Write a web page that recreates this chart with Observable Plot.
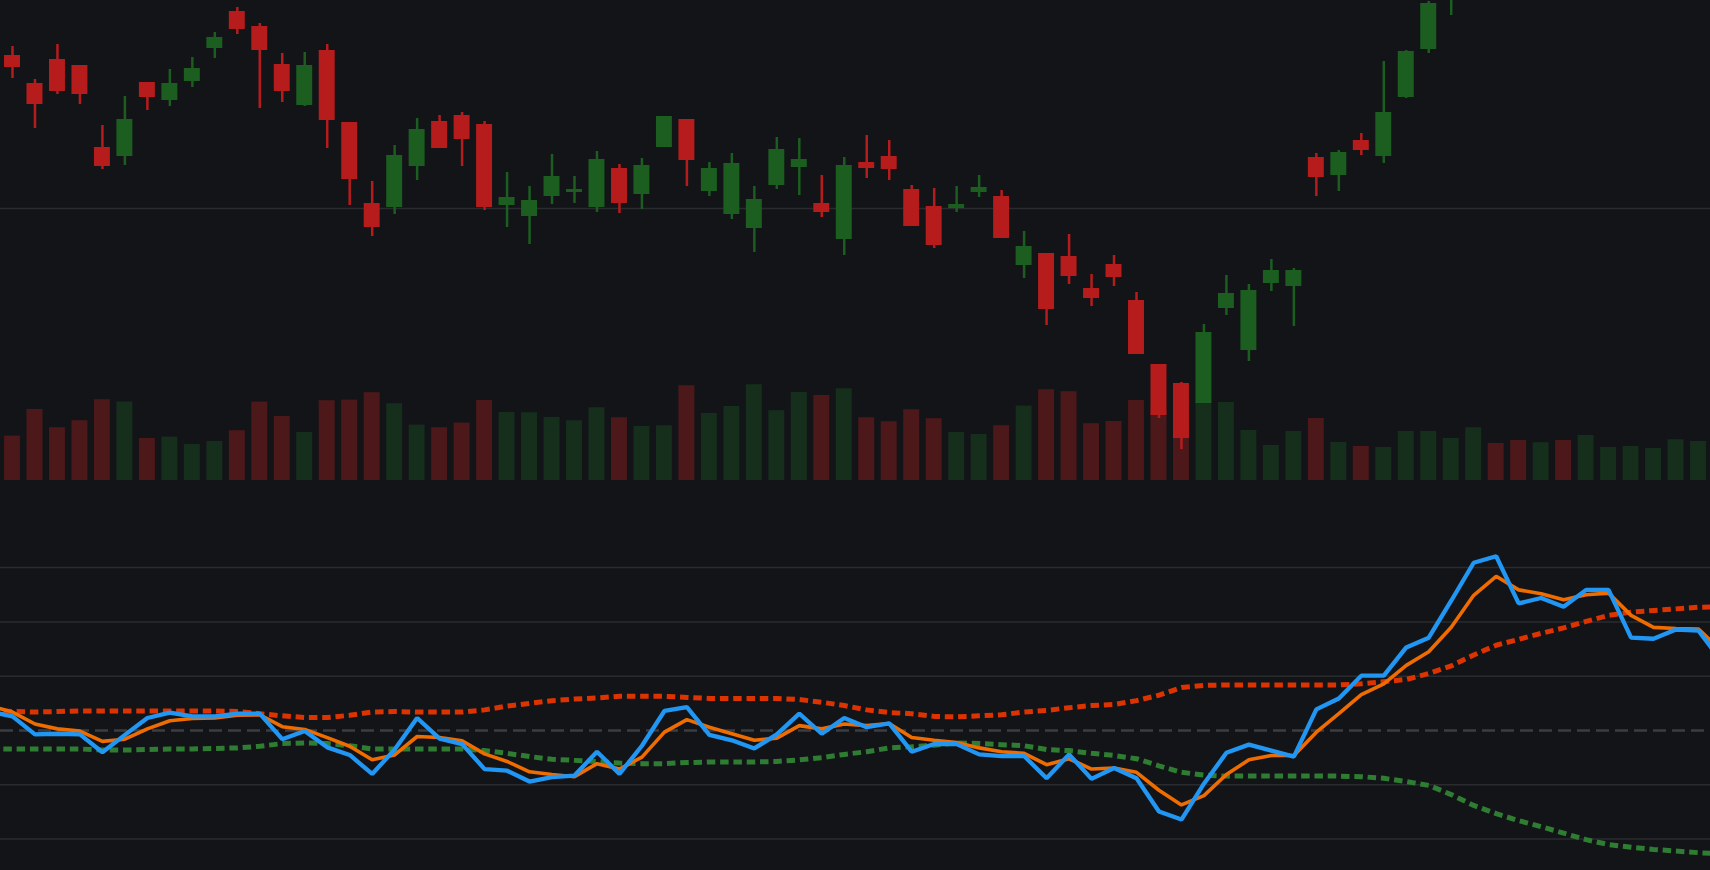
<!DOCTYPE html>
<html>
<head>
<meta charset="utf-8">
<script src="https://cdn.jsdelivr.net/npm/d3@7"></script>
<script src="https://cdn.jsdelivr.net/npm/@observablehq/plot@0.6"></script>
<style>
html, body { margin: 0; padding: 0; background: #131418; overflow: hidden; }
#chart { position: relative; width: 1710px; height: 870px; background: #131418; }
</style>
</head>
<body>
<div id="chart"></div>
<script>
// ---- categories (trading-day index; -1 and 76 are partly visible line ends) ----
const days = d3.range(-1, 77);

// ---- candles (days 0..75) ----
const openP = [135.3,132.5,134.9,134.3,126.1,125.2,132.6,130.8,132.7,136.0,
  139.7,138.2,134.4,130.3,135.8,128.6,120.5,120.1,124.2,128.7,
  129.3,128.4,120.3,119.2,121.2,121.6,120.1,124.0,121.4,126.1,
  128.9,121.7,119.4,118.0,122.3,124.1,120.5,116.9,124.6,125.2,
  121.9,120.2,120.0,121.6,121.2,114.3,115.5,115.2,112.0,114.4,
  110.8,104.4,102.5,100.5,110.0,105.8,112.5,112.2,125.1,123.3,
  126.8,125.2,131.1,135.9,141.6,146.0,152.0,150.4,146.5,147.4,
  146.6,148.6,144.2,144.8,145.1,145.8];
const highP = [136.2,132.9,136.4,134.3,128.3,131.2,132.6,133.9,135.1,137.6,
  140.1,138.5,135.5,135.6,136.4,128.6,122.7,126.3,129.0,129.3,
  129.6,128.7,123.6,122.2,125.4,123.2,125.7,124.4,125.0,129.2,
  128.9,124.6,125.5,122.2,127.1,127.0,123.3,125.1,127.3,126.8,
  122.3,122.0,122.2,123.3,121.8,117.7,115.5,117.4,113.4,115.3,
  111.6,104.4,102.6,108.4,113.3,112.4,114.9,114.0,125.5,125.8,
  127.5,134.7,135.8,140.7,146.8,152.5,153.4,150.9,148.2,148.0,
  149.2,149.5,145.6,145.7,146.5,146.6];
const lowP = [133.0,128.0,131.4,130.4,123.9,124.3,129.8,130.2,132.1,135.0,
  137.4,130.0,130.6,130.2,126.0,120.3,117.2,119.4,122.8,126.0,
  124.2,119.8,118.1,116.4,120.4,120.5,119.6,119.5,119.9,126.1,
  122.2,121.2,118.9,115.6,121.9,121.3,119.1,115.3,123.0,122.8,
  118.2,116.0,119.6,121.1,117.0,113.0,108.3,112.4,110.2,112.2,
  105.4,99.0,95.9,100.5,109.3,104.7,111.7,108.2,121.2,121.7,
  125.3,124.5,131.0,135.5,139.3,145.2,149.8,145.5,145.8,145.9,
  146.1,147.8,143.5,144.1,144.7,145.3];
const closeP = [134.1,130.4,131.7,131.4,124.2,128.9,131.1,132.5,134.0,137.1,
  137.9,135.8,131.7,134.3,128.8,122.9,118.1,125.3,127.9,126.0,
  126.9,120.1,121.1,120.8,123.2,121.9,124.9,120.5,124.3,129.2,
  124.8,124.0,124.5,120.9,125.9,124.9,119.6,124.3,124.0,123.9,
  118.2,116.3,120.4,122.1,117.0,116.2,109.9,113.2,111.0,113.1,
  105.4,99.3,97.0,107.6,111.5,111.8,113.8,113.8,123.1,125.6,
  125.8,129.6,135.7,140.5,145.9,151.8,150.6,146.3,147.6,146.4,
  148.7,148.9,145.0,145.2,146.0,146.1];
// volume, millions (days 0..75)
const volume = [22.2,35.5,26.4,29.9,40.4,39.2,21.0,21.7,18.0,19.5,
  24.9,39.2,32.0,24.0,39.9,40.2,43.9,38.4,27.7,26.4,
  28.7,40.0,34.0,33.9,31.5,29.9,36.4,31.4,27.0,27.4,
  47.4,33.5,37.0,47.9,34.9,44.0,42.5,45.9,31.4,29.4,
  35.4,30.9,24.0,23.0,27.4,37.2,45.4,44.4,28.4,29.5,
  40.0,35.0,25.0,39.5,39.0,25.0,17.5,24.5,31.0,19.0,
  17.0,16.5,24.5,24.5,21.0,26.4,18.5,20.0,18.9,20.0,
  22.5,16.5,17.0,16.0,20.4,19.5];

// ---- oscillator pane (days -1..76) ----
const oscillator = [53.5,52.6,49.3,49.4,49.3,46.0,49.2,52.3,53.3,52.6,
  52.6,53.1,53.1,48.4,49.9,46.9,45.5,42.0,46.5,52.3,
  48.5,47.5,42.9,42.6,40.6,41.4,41.7,46.1,42.0,47.2,
  53.6,54.3,49.2,48.2,46.7,49.3,53.1,49.4,52.3,50.6,
  51.3,46.1,47.5,47.5,45.6,45.3,45.3,41.2,45.6,41.1,
  43.1,41.2,35.1,33.6,40.2,45.9,47.4,46.3,45.2,53.9,
  55.9,60.1,60.1,65.3,67.1,73.9,80.9,82.1,73.4,74.4,
  72.8,75.9,75.9,67.1,66.9,68.6,68.4,62.9];
const signal = [54.5,53.4,51.2,50.3,49.9,48.0,48.4,50.3,51.8,52.2,
  52.3,52.8,52.9,50.7,50.2,48.7,47.1,44.6,45.5,48.9,
  48.7,48.1,45.7,44.3,42.4,41.9,41.5,43.9,42.9,45.1,
  49.7,52.0,50.6,49.4,48.2,48.6,50.9,50.3,51.2,50.9,
  51.3,48.7,48.2,47.8,46.8,46.1,45.8,43.7,44.8,42.9,
  43.1,42.3,39.0,36.3,38.0,41.9,44.6,45.4,45.4,49.7,
  53.1,56.6,58.6,62.0,64.5,69.0,74.9,78.4,75.9,75.2,
  74.1,75.0,75.3,71.2,69.0,68.8,68.7,64.7];
const upperBand = [53.7,53.5,53.4,53.5,53.6,53.6,53.6,53.6,53.6,53.6,
  53.6,53.5,53.1,52.7,52.4,52.4,52.8,53.4,53.5,53.4,
  53.4,53.4,53.8,54.5,55.0,55.5,55.8,56.0,56.3,56.3,
  56.3,56.1,55.9,55.9,55.9,55.9,55.7,55.2,54.6,53.8,
  53.3,53.1,52.6,52.5,52.7,52.9,53.4,53.7,54.2,54.6,
  54.8,55.5,56.5,57.9,58.3,58.4,58.4,58.4,58.4,58.4,
  58.4,58.6,59.0,59.4,60.5,61.9,63.9,65.7,66.8,67.9,
  68.9,70.1,71.2,71.8,72.1,72.4,72.7,72.8];
const lowerBand = [46.6,46.6,46.6,46.6,46.6,46.4,46.4,46.5,46.6,46.6,
  46.7,46.8,47.1,47.6,47.7,47.6,47.2,46.6,46.6,46.6,
  46.6,46.6,46.3,45.8,45.2,44.7,44.5,44.3,44.0,43.9,
  43.9,44.1,44.2,44.2,44.2,44.3,44.6,45.0,45.6,46.1,
  46.8,47.0,47.3,47.7,47.6,47.4,47.2,46.5,46.3,45.8,
  45.4,44.8,43.5,42.3,41.8,41.6,41.6,41.6,41.6,41.6,
  41.6,41.5,41.2,40.6,39.9,38.2,36.2,34.7,33.4,32.3,
  31.1,29.9,29.0,28.5,28.1,27.8,27.5,27.3];

// ---- reference lines ----
const priceGrid = [120];
const oscGrid = [30, 40, 60, 70, 80];
const oscMid = [50];

// ---- tables built from the arrays ----
const candles = openP.map((o, k) => ({
  day: k, open: o, high: highP[k], low: lowP[k], close: closeP[k], volume: volume[k]
}));
const up = candles.filter(d => d.close >= d.open);
const down = candles.filter(d => d.close < d.open);
const osc = days.map((d, k) => ({
  day: d, osc: oscillator[k], sig: signal[k], upper: upperBand[k], lower: lowerBand[k]
}));

const C = {
  bg: "#131418", up: "#1b5e20", down: "#b71c1c",
  volUp: "#162e1c", volDown: "#4c181a", grid: "#2a2b2f", mid: "#3c3d40",
  osc: "#2196f3", sig: "#ef6c00", upper: "#dd3300", lower: "#2e7d32"
};

const xScale = {
  type: "band", domain: days, range: [-21.72, 1731.72],
  paddingInner: 0.29, paddingOuter: 0.145, round: false, axis: null
};
const svgStyle = top => ({
  background: "transparent", position: "absolute", left: "0px", top: top + "px",
  overflow: "hidden", maxWidth: "none"
});
const chart = document.getElementById("chart");

// volume (behind the candles)
chart.append(Plot.plot({
  width: 1710, height: 480, margin: 0,
  style: svgStyle(0),
  x: xScale,
  y: {domain: [0, 240], range: [480, 0], axis: null},
  marks: [
    Plot.barY(up, {x: "day", y: "volume", fill: C.volUp}),
    Plot.barY(down, {x: "day", y: "volume", fill: C.volDown})
  ]
}));

// candles
chart.append(Plot.plot({
  width: 1710, height: 480, margin: 0,
  style: svgStyle(0),
  x: xScale,
  y: {domain: [92.8, 140.8], range: [480, 0], axis: null},
  marks: [
    Plot.ruleY(priceGrid, {stroke: C.grid, strokeWidth: 1.5}),
    Plot.ruleX(up, {x: "day", y1: "low", y2: "high", stroke: C.up, strokeWidth: 2.5}),
    Plot.ruleX(down, {x: "day", y1: "low", y2: "high", stroke: C.down, strokeWidth: 2.5}),
    Plot.barY(up, {x: "day", y1: "open", y2: "close", fill: C.up}),
    Plot.barY(down, {x: "day", y1: "open", y2: "close", fill: C.down})
  ]
}));

// oscillator pane
chart.append(Plot.plot({
  width: 1710, height: 380, margin: 0,
  style: svgStyle(490),
  x: xScale,
  y: {domain: [24.22, 94.2], range: [380, 0], axis: null},
  marks: [
    Plot.ruleY(oscGrid, {stroke: C.grid, strokeWidth: 1.5}),
    Plot.ruleY(oscMid, {stroke: C.mid, strokeWidth: 2.5, strokeDasharray: "13 6"}),
    Plot.lineY(osc, {x: "day", y: "upper", stroke: C.upper, strokeWidth: 5,
      strokeDasharray: "8.5 4.8", strokeLinecap: "butt"}),
    Plot.lineY(osc, {x: "day", y: "lower", stroke: C.lower, strokeWidth: 5,
      strokeDasharray: "8.5 4.8", strokeLinecap: "butt"}),
    Plot.lineY(osc, {x: "day", y: "sig", stroke: C.sig, strokeWidth: 3.6, strokeLinejoin: "miter"}),
    Plot.lineY(osc, {x: "day", y: "osc", stroke: C.osc, strokeWidth: 4.3, strokeLinejoin: "miter"})
  ]
}));
</script>
</body>
</html>
